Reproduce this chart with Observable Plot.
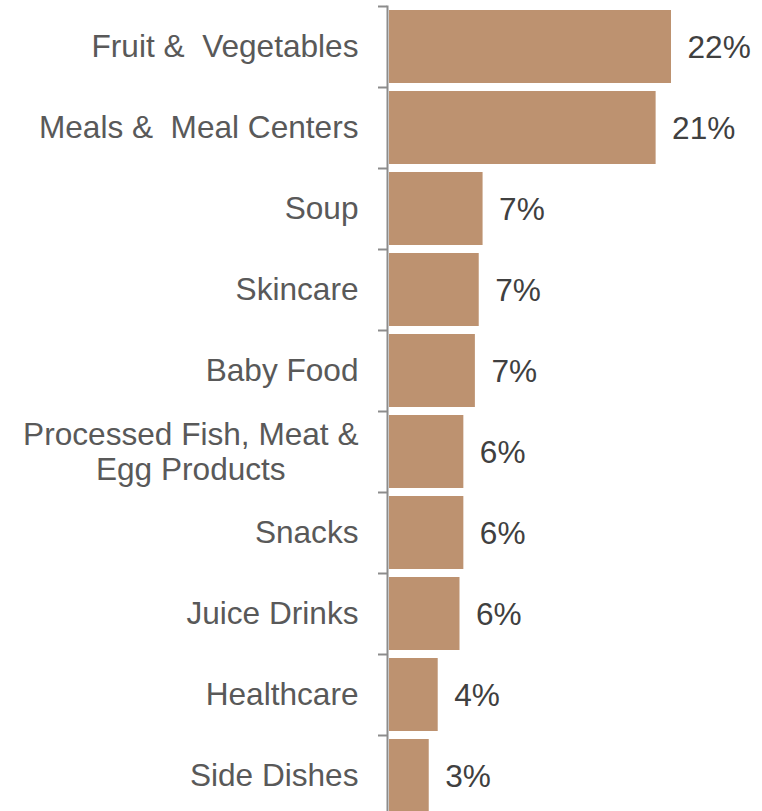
<!DOCTYPE html>
<html><head><meta charset="utf-8">
<script src="https://cdn.jsdelivr.net/npm/d3@7"></script>
<script src="https://cdn.jsdelivr.net/npm/@observablehq/plot@0.6"></script>
<style>
body{margin:0;background:#fff}
svg{display:block}
svg text{white-space:pre}
</style>
</head><body><div id="chart"></div>
<script>
const categories = ["Fruit &  Vegetables", "Meals &  Meal Centers", "Soup", "Skincare", "Baby Food", "Processed Fish, Meat &\nEgg Products", "Snacks", "Juice Drinks", "Healthcare", "Side Dishes"];
const values = [22.0, 20.8, 7.3, 7.0, 6.7, 5.8, 5.8, 5.5, 3.8, 3.1];
const labels = ["22%", "21%", "7%", "7%", "7%", "6%", "6%", "6%", "4%", "3%"];
const data = categories.map((c, i) => ({category: c, value: values[i], label: labels[i]}));

const font = "'Liberation Sans', Arial, sans-serif";
const chart = Plot.plot({
  width: 762,
  height: 811,
  marginLeft: 387,
  marginRight: 0,
  marginTop: 6,
  marginBottom: 0,
  style: {fontFamily: font, background: "#fff"},
  x: {domain: [0, 22], range: [389, 671], axis: null},
  y: {domain: categories, range: [6, 816], paddingInner: 0.1, paddingOuter: 0.05, axis: null},
  marks: [
    Plot.barX(data, {y: "category", x: "value", fill: "#bd9270"}),
    Plot.frame({anchor: "left", stroke: "#8c8c8c", strokeWidth: 2}),
    Plot.axisY({tickSize: 9, tickFormat: () => "", dy: -40.5, stroke: "#8c8c8c", strokeWidth: 2, label: null}),
    Plot.text(data, {y: "category", frameAnchor: "left", dx: -29, dy: -1, text: "category", textAnchor: "end", fill: "#595959", fontSize: 31.6, lineHeight: 1.13, fontFamily: font}),
    Plot.text(data, {y: "category", x: "value", text: "label", dx: 16, dy: 1, textAnchor: "start", fill: "#404040", fontSize: 31.6, fontFamily: font})
  ]
});
document.getElementById("chart").append(chart);
chart.querySelectorAll("text").forEach(t => {
  const ts = t.querySelectorAll("tspan");
  if (ts.length > 1) {
    const bb = t.getBBox();
    const c = bb.x + bb.width / 2;
    t.setAttribute("text-anchor", "middle");
    ts.forEach(s => s.setAttribute("x", c));
  }
});
</script>
</body></html>
